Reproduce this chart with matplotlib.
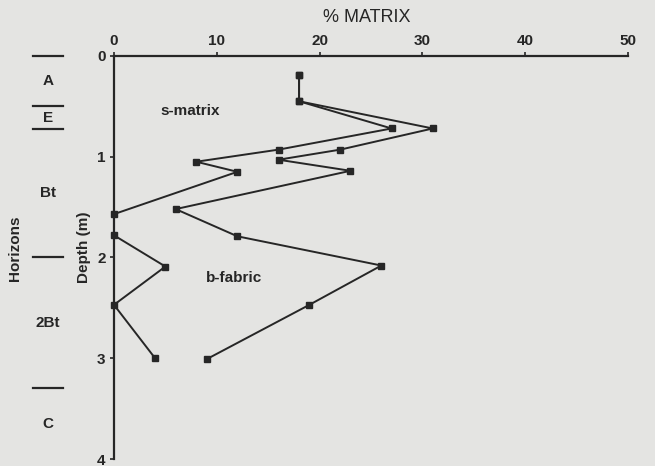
import matplotlib
matplotlib.use("Agg")
import matplotlib.pyplot as plt
import matplotlib.transforms as mtransforms

# ---- data ----
series_a_pct = [18, 18, 27, 16, 8, 12, 0, 0, 5, 0, 4]
series_a_depth = [0.19, 0.45, 0.72, 0.93, 1.05, 1.15, 1.57, 1.78, 2.09, 2.47, 3.0]
series_b_pct = [18, 18, 31, 22, 16, 23, 6, 12, 26, 19, 9]
series_b_depth = [0.19, 0.45, 0.72, 0.93, 1.03, 1.14, 1.52, 1.79, 2.08, 2.47, 3.01]

horizon_names = ["A", "E", "Bt", "2Bt", "C"]
horizon_bounds = [0.0, 0.5, 0.73, 2.0, 3.3, 4.0]

x_ticks = [0, 10, 20, 30, 40, 50]
y_ticks = [0, 1, 2, 3, 4]

bg = "#e4e4e2"
ink = "#262626"

plt.rcParams["font.family"] = ["Liberation Sans", "DejaVu Sans"]

fig = plt.figure(figsize=(6.55, 4.66), dpi=100, facecolor=bg)
ax = fig.add_axes([0.174, 0.015, 0.785, 0.865])
ax.set_facecolor(bg)

for xs, ys in [(series_a_pct, series_a_depth), (series_b_pct, series_b_depth)]:
    ax.plot(xs, ys, color=ink, lw=1.4, marker="s", ms=4, mfc=ink, mec=ink,
            clip_on=False, zorder=3)

ax.set_xlim(0, 50)
ax.set_ylim(4, 0)
ax.xaxis.tick_top()
ax.xaxis.set_label_position("top")
ax.set_xticks(x_ticks)
ax.set_yticks(y_ticks)
ax.tick_params(direction="out", length=3, width=1.2, colors=ink,
               labelsize=11, pad=3)
for lab in ax.get_xticklabels() + ax.get_yticklabels():
    lab.set_fontweight("bold")
for s in ["right", "bottom"]:
    ax.spines[s].set_visible(False)
for s in ["left", "top"]:
    ax.spines[s].set_linewidth(1.6)
    ax.spines[s].set_color(ink)

ax.text(7.4, 0.55, "s-matrix", fontsize=11, color=ink, ha="center",
        va="center", fontweight="bold")
ax.text(11.7, 2.2, "b-fabric", fontsize=11, color=ink, ha="center",
        va="center", fontweight="bold")

fig.text(367 / 655, 1 - 18 / 466, "% MATRIX", fontsize=13, color=ink,
         ha="center", va="center")
fig.text(84 / 655, 1 - 247 / 466, "Depth (m)", fontsize=11, color=ink,
         rotation=90, ha="center", va="center", fontweight="bold")
fig.text(15 / 655, 1 - 248 / 466, "Horizons", fontsize=11, color=ink,
         rotation=90, ha="center", va="center", fontweight="bold")

# horizon column
trans = mtransforms.blended_transform_factory(fig.transFigure, ax.transData)
for b in horizon_bounds[:-1]:
    ax.plot([33 / 655, 63 / 655], [b, b], color=ink, lw=1.6,
            transform=trans, clip_on=False)
for i, name in enumerate(horizon_names):
    mid = (horizon_bounds[i] + horizon_bounds[i + 1]) / 2
    ax.text(48 / 655, mid, name, fontsize=11, color=ink, ha="center",
            va="center", transform=trans, fontweight="bold")

fig.savefig("out.png", dpi=100, facecolor=bg)
